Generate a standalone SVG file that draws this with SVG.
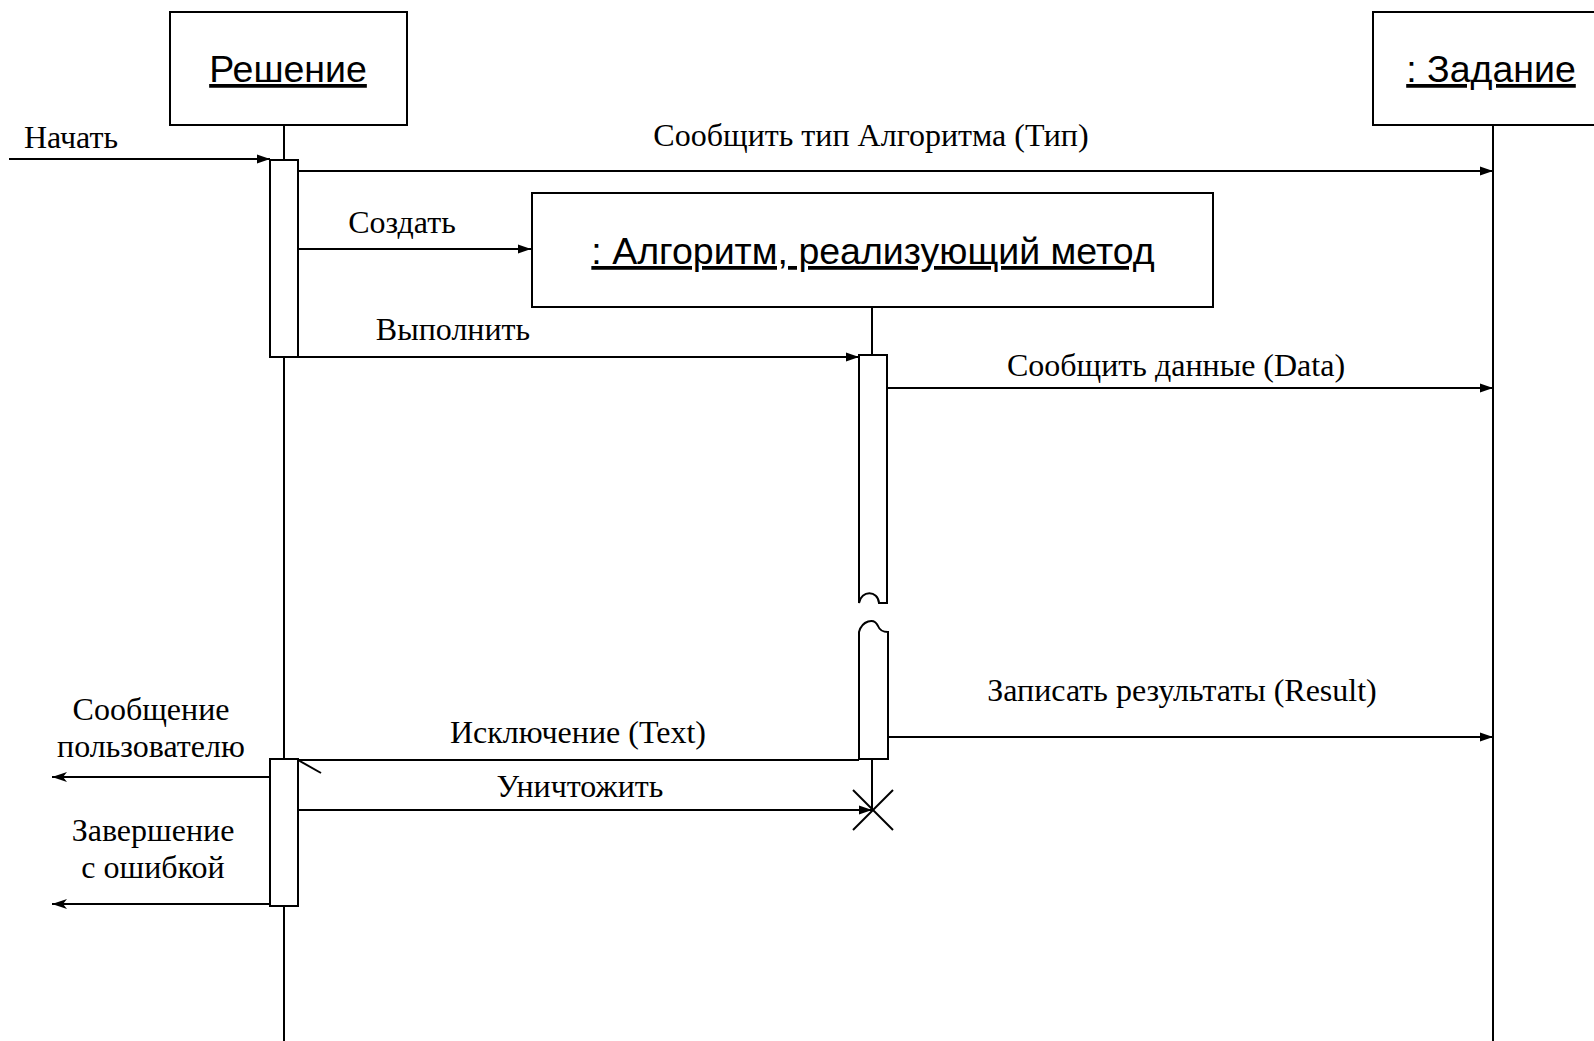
<svg xmlns="http://www.w3.org/2000/svg" width="1594" height="1041" viewBox="0 0 1594 1041">
<style>
.box{fill:#fff;stroke:#000;stroke-width:2}
.act{fill:#fff;stroke:#000;stroke-width:2}
.ln{fill:none;stroke:#000;stroke-width:2}
.msg{fill:none;stroke:#000;stroke-width:2}
.sans{font-family:"Liberation Sans",Arial,sans-serif;font-size:37.5px;fill:#000;text-anchor:middle;text-decoration:underline}
.ser{font-family:"Liberation Serif","Times New Roman",serif;font-size:32px;fill:#000;text-anchor:middle}
</style>
<defs>
<marker id="arr" markerUnits="userSpaceOnUse" markerWidth="14" markerHeight="10" refX="13" refY="5" orient="auto">
<path d="M0,0.5 L13,5 L0,9.5 Z" fill="#000"/>
</marker>
<marker id="arr2" markerUnits="userSpaceOnUse" markerWidth="16" markerHeight="12" refX="15" refY="6" orient="auto">
<path d="M0,1 L15,6 L0,11 L4,6 Z" fill="#000"/>
</marker>
</defs>
<rect width="1594" height="1041" fill="#fff"/>
<g id="lifelines">
<line class="ln" x1="284" y1="125" x2="284" y2="1041"/>
<line class="ln" x1="1493" y1="125" x2="1493" y2="1041"/>
<line class="ln" x1="872" y1="307" x2="872" y2="355"/>
<line class="ln" x1="872" y1="759" x2="872" y2="810"/>
</g>
<g id="node-reshenie">
<rect class="box" x="170" y="12" width="237" height="113"/>
<text class="sans" x="288" y="82">Решение</text>
</g>
<g id="node-zadanie">
<rect class="box" x="1373" y="12" width="230" height="113"/>
<text class="sans" x="1491" y="82">: Задание</text>
</g>
<g id="node-algoritm">
<rect class="box" x="532" y="193" width="681" height="114"/>
<text class="sans" x="873" y="264">: Алгоритм, реализующий метод</text>
</g>
<g id="activations">
<rect class="act" x="270" y="160" width="28" height="197"/>
<rect class="act" x="270" y="759" width="28" height="147"/>
<path class="act" d="M859,355 L887,355 L887,603 L879,603 C878,590 861,590 859,603 Z"/>
<path class="act" d="M859,759 L859,632 C862,621 874,617 878,626 C880,631 883,632 888,632 L888,759 Z"/>
</g>
<g id="destroy">
<line class="ln" x1="853" y1="790" x2="893" y2="830" stroke-width="3"/>
<line class="ln" x1="893" y1="790" x2="853" y2="830" stroke-width="3"/>
</g>
<g id="connectors">
<line class="msg" x1="9" y1="159" x2="270" y2="159" marker-end="url(#arr)"/>
<line class="msg" x1="298" y1="171" x2="1493" y2="171" marker-end="url(#arr)"/>
<line class="msg" x1="298" y1="249" x2="531" y2="249" marker-end="url(#arr)"/>
<line class="msg" x1="298" y1="357" x2="859" y2="357" marker-end="url(#arr)"/>
<line class="msg" x1="887" y1="388" x2="1493" y2="388" marker-end="url(#arr)"/>
<line class="msg" x1="887" y1="737" x2="1493" y2="737" marker-end="url(#arr)"/>
<line class="msg" x1="859" y1="760" x2="298" y2="760"/>
<line class="msg" x1="298" y1="760" x2="321" y2="773"/>
<line class="msg" x1="298" y1="810" x2="872" y2="810" marker-end="url(#arr)"/>
<line class="msg" x1="270" y1="777" x2="52" y2="777" marker-end="url(#arr2)"/>
<line class="msg" x1="270" y1="904" x2="52" y2="904" marker-end="url(#arr2)"/>
</g>
<g id="labels">
<text class="ser" x="71" y="148">Начать</text>
<text class="ser" x="871" y="146">Сообщить тип Алгоритма (Тип)</text>
<text class="ser" x="402" y="233">Создать</text>
<text class="ser" x="453" y="340">Выполнить</text>
<text class="ser" x="1176" y="376">Сообщить данные (Data)</text>
<text class="ser" x="1182" y="701">Записать результаты (Result)</text>
<text class="ser" x="578" y="743">Исключение (Text)</text>
<text class="ser" x="580" y="797">Уничтожить</text>
<text class="ser" x="151" y="720">Сообщение</text>
<text class="ser" x="151" y="757">пользователю</text>
<text class="ser" x="153" y="841">Завершение</text>
<text class="ser" x="153" y="878">с ошибкой</text>
</g>
</svg>
